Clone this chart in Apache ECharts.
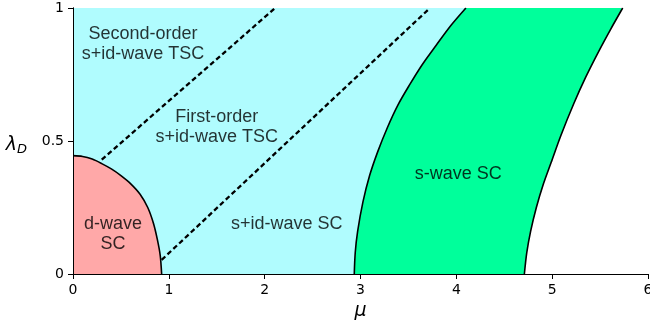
<!DOCTYPE html>
<html>
<head>
<meta charset="utf-8">
<style>
  html, body { margin: 0; padding: 0; background: #fff; }
  #chart { width: 650px; height: 328px; }
</style>
<script src="https://cdn.jsdelivr.net/npm/echarts@6/dist/echarts.min.js"></script>
</head>
<body>
<div id="chart"></div>
<script>
// phase boundaries as [mu, lambda_D]
const dWaveEdge = [[0, 0.445], [0.1, 0.442], [0.2, 0.432], [0.3, 0.415], [0.4, 0.395], [0.5, 0.37], [0.6, 0.34], [0.7, 0.3], [0.78, 0.25], [0.84, 0.19], [0.88, 0.13], [0.91, 0.07], [0.925, 0]];
const sWaveLeft = [[2.935, 0], [2.945, 0.08], [2.97, 0.16], [3.025, 0.27], [3.095, 0.37], [3.18, 0.46], [3.28, 0.55], [3.39, 0.635], [3.51, 0.71], [3.64, 0.785], [3.79, 0.86], [3.945, 0.935], [4.1, 1]];
const sWaveRight = [[4.71, 0], [4.735, 0.08], [4.775, 0.16], [4.835, 0.25], [4.91, 0.34], [4.99, 0.42], [5.09, 0.52], [5.225, 0.64], [5.35, 0.74], [5.49, 0.84], [5.61, 0.92], [5.736, 1]];
const secondOrderLine = [[0.3, 0.43], [2.11, 1]];
const firstOrderLine = [[0.925, 0.053], [3.725, 1]];

const xTicks = [0, 1, 2, 3, 4, 5, 6];
const yTicks = [0, 0.5, 1];

const regionNames = ['Second-order\ns+id-wave TSC', 'First-order\ns+id-wave TSC', 's+id-wave SC', 's-wave SC', 'd-wave\nSC'];
const regionSpots = [[0.73, 0.865], [1.5, 0.553], [2.23, 0.188], [4.02, 0.374], [0.417, 0.15]];

const CYAN = '#b0fcfe';
const PINK = '#ffa8a8';
const GREEN = '#00ff9b';

const chart = echarts.init(document.getElementById('chart'));

const edgeLine = { color: '#000', width: 1.6 };
const tickFont = { fontFamily: 'DejaVu Sans', fontSize: 14, color: '#000' };
const xMax = xTicks[xTicks.length - 1];
const yMax = yTicks[yTicks.length - 1];

// filled patch: fill below a boundary, no outline
function patch(data, color, smooth) {
  return {
    type: 'line', showSymbol: false, smooth: smooth ? 0.3 : false, silent: true,
    data: data,
    lineStyle: { width: 0 },
    areaStyle: { color: color, opacity: 1, origin: 'start' }
  };
}
function edge(data, dashed) {
  return {
    type: 'line', showSymbol: false, smooth: dashed ? false : 0.3, silent: true, z: 3,
    data: data,
    lineStyle: dashed ? { color: '#000', width: 2.3, type: [5, 3] } : edgeLine
  };
}
// strip along the top, right of where a boundary meets lambda = 1 (overlaps a bit to hide the seam)
function topStrip(curve, color) {
  const x0 = curve[curve.length - 1][0] - 0.012;
  return patch([[x0, yMax], [xMax, yMax]], color, false);
}

const option = {
  animation: false,
  grid: {
    left: 73, right: 2, top: 8, bottom: 54,
    outerBoundsMode: 'none', containLabel: false,
    show: true, backgroundColor: CYAN, borderWidth: 0
  },
  xAxis: [{
    type: 'value', min: xTicks[0], max: xMax, interval: 1,
    z: 10,
    splitLine: { show: false },
    axisLine: { lineStyle: { color: '#000', width: 1 } },
    axisTick: { length: 5, lineStyle: { color: '#000' } },
    axisLabel: Object.assign({ margin: 9 }, tickFont),
    name: 'μ', nameLocation: 'middle', nameGap: 28,
    nameTextStyle: { fontFamily: 'DejaVu Sans', fontStyle: 'italic', fontSize: 19, color: '#000' }
  }, {
    type: 'value', position: 'top', min: 0, max: xMax, z: 10,
    splitLine: { show: false }, axisTick: { show: false }, axisLabel: { show: false },
    axisLine: { lineStyle: { color: '#000', width: 1 } }
  }],
  yAxis: [{
    type: 'value', min: yTicks[0], max: yMax, interval: 0.5,
    z: 10,
    splitLine: { show: false },
    axisLine: { show: true, lineStyle: { color: '#000', width: 1 } },
    axisTick: { show: true, length: 5, lineStyle: { color: '#000' } },
    axisLabel: Object.assign({ margin: 9 }, tickFont),
    name: '{l|λ}{s|D}', nameLocation: 'middle', nameRotate: 0, nameGap: 46,
    nameTextStyle: {
      padding: [8, 0, 0, 0],
      rich: {
        l: { fontFamily: 'DejaVu Sans', fontStyle: 'italic', fontSize: 19, color: '#000' },
        s: { fontFamily: 'DejaVu Sans', fontStyle: 'italic', fontSize: 13, color: '#000', padding: [10, 0, 0, 0] }
      }
    }
  }, {
    type: 'value', position: 'right', min: 0, max: yMax, z: 10,
    splitLine: { show: false }, axisTick: { show: false }, axisLabel: { show: false },
    axisLine: { show: true, lineStyle: { color: '#000', width: 1 } }
  }],
  series: [
    // s-wave band: right of the inner boundary ...
    patch(sWaveLeft, GREEN, true),
    topStrip(sWaveLeft, GREEN),
    // ... and nothing right of the outer boundary
    patch(sWaveRight, '#ffffff', true),
    topStrip(sWaveRight, '#ffffff'),
    patch(dWaveEdge, PINK, true),
    edge(sWaveLeft), edge(sWaveRight), edge(dWaveEdge),
    edge(secondOrderLine, true), edge(firstOrderLine, true),
    {
      type: 'scatter', symbolSize: 1, silent: true, z: 6,
      itemStyle: { color: 'rgba(0,0,0,0)' },
      data: regionNames.map((n, i) => ({ name: n, value: regionSpots[i] })),
      label: {
        show: true, position: 'inside', formatter: '{b}',
        fontFamily: 'Liberation Sans', fontSize: 18, lineHeight: 20, color: '#000', align: 'center'
      },
      labelLayout: { hideOverlap: false }
    }
  ]
};

chart.setOption(option);
</script>
</body>
</html>
